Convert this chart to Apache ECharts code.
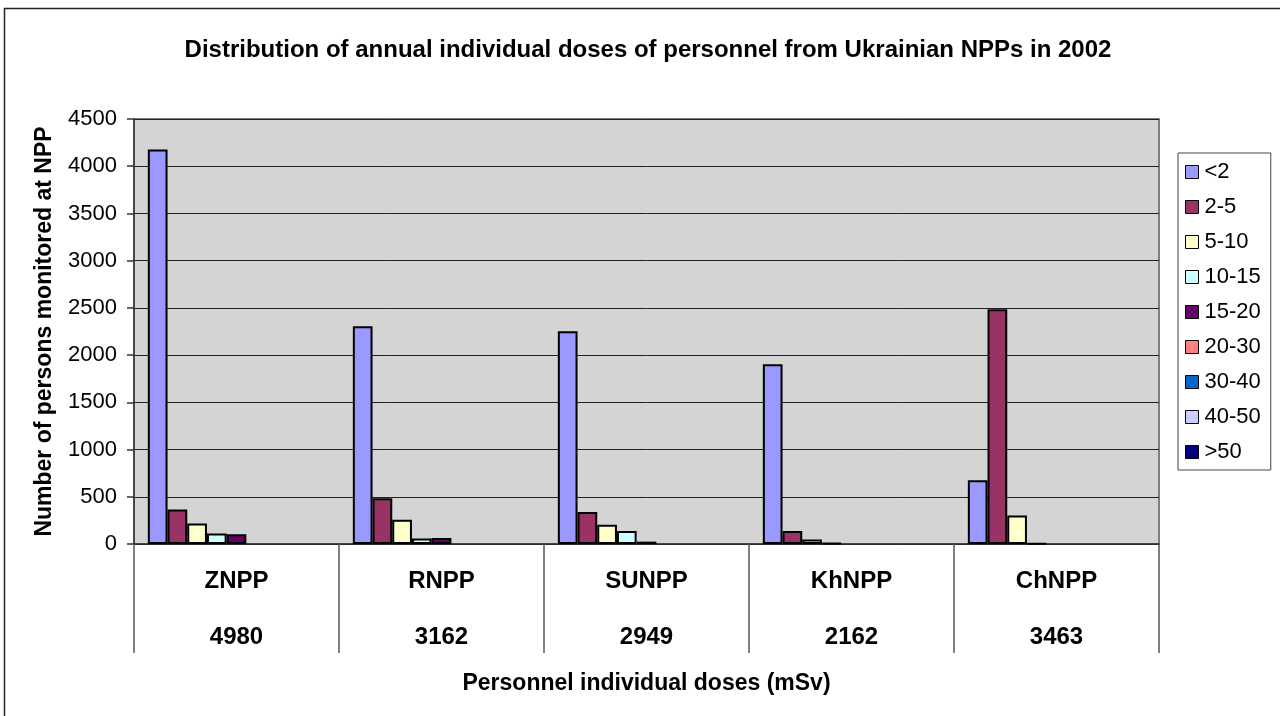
<!DOCTYPE html>
<html>
<head>
<meta charset="utf-8">
<script src="https://cdn.jsdelivr.net/npm/echarts@6/dist/echarts.min.js"></script>
<style>
html,body{margin:0;padding:0;background:#fff;}
#chart{width:1280px;height:716px;}
</style>
</head>
<body>
<div id="chart"></div>
<script>
var categories = ['ZNPP', 'RNPP', 'SUNPP', 'KhNPP', 'ChNPP'];
var totals = [4980, 3162, 2949, 2162, 3463];
var doseBands = ['<2', '2-5', '5-10', '10-15', '15-20', '20-30', '30-40', '40-50', '>50'];
var yTicks = [0, 500, 1000, 1500, 2000, 2500, 3000, 3500, 4000, 4500];

var lt2    = [4176, 2305, 2252, 1903, 674];
var d2_5   = [364, 484, 339, 138, 2485];
var d5_10  = [216, 258, 205, 47, 301];
var d10_15 = [110, 57, 138, 8, 6];
var d15_20 = [103, 64, 25, 0, 0];
var d20_30 = [0, 0, 0, 0, 0];
var d30_40 = [0, 0, 0, 0, 0];
var d40_50 = [0, 0, 0, 0, 0];
var gt50   = [0, 0, 0, 0, 0];

var seriesValues = [lt2, d2_5, d5_10, d10_15, d15_20, d20_30, d30_40, d40_50, gt50];
var colors = ['#9999FF', '#993366', '#FFFFCC', '#CCFFFF', '#660066', '#FF8080', '#0066CC', '#CCCCFF', '#000080'];

var FONT = '"Liberation Sans", Arial, sans-serif';

var chart = echarts.init(document.getElementById('chart'), null, {renderer: 'canvas'});

var series = doseBands.map(function (name, i) {
  return {
    name: name,
    type: 'bar',
    barGap: '0%',
    barCategoryGap: '13.5%',
    data: seriesValues[i].map(function (v) { return v === 0 ? null : v; }),
    itemStyle: {color: colors[i], borderColor: '#000', borderWidth: 2},
    emphasis: {disabled: true}
  };
});

var option = {
  animation: false,
  backgroundColor: '#fff',
  textStyle: {fontFamily: FONT},
  color: colors,
  title: {
    text: 'Distribution of annual individual doses of personnel from Ukrainian NPPs in 2002',
    left: 643,
    top: 33,
    textAlign: 'center',
    textStyle: {fontFamily: FONT, fontSize: 24, fontWeight: 'bold', color: '#000'}
  },
  graphic: [{
    type: 'rect',
    shape: {x: 4.5, y: 8.5, width: 1300, height: 730},
    style: {fill: 'none', stroke: '#222', lineWidth: 1.5},
    silent: true,
    z: 100
  }],
  legend: {
    orient: 'vertical',
    left: 1178,
    top: 153,
    padding: [8, 10, 7, 7],
    itemWidth: 13,
    itemHeight: 13,
    itemGap: 13,
    icon: 'rect',
    borderColor: '#444',
    borderWidth: 1,
    backgroundColor: '#fff',
    itemStyle: {borderColor: '#000', borderWidth: 1},
    textStyle: {fontFamily: FONT, fontSize: 22, color: '#000', lineHeight: 22, padding: [0, 0, 0, 1]},
    data: doseBands
  },
  grid: {
    left: 134,
    top: 119,
    width: 1025,
    height: 425,
    show: true,
    backgroundColor: '#D4D4D4',
    borderColor: '#808080',
    borderWidth: 2,
    containLabel: false
  },
  xAxis: {
    type: 'category',
    data: categories,
    name: 'Personnel individual doses (mSv)',
    nameLocation: 'middle',
    nameGap: 128,
    nameTextStyle: {fontFamily: FONT, fontSize: 23, fontWeight: 'bold', color: '#000'},
    axisLine: {show: true, lineStyle: {color: '#333', width: 1.5}},
    axisTick: {show: true, length: 109, interval: 0, lineStyle: {color: '#555', width: 1.5}},
    axisLabel: {
      interval: 0,
      margin: 9,
      formatter: function (v, idx) { return '{a|' + v + '}\n{b|' + totals[idx] + '}'; },
      rich: {
        a: {fontFamily: FONT, fontSize: 24, fontWeight: 'bold', color: '#000', lineHeight: 56},
        b: {fontFamily: FONT, fontSize: 24, fontWeight: 'bold', color: '#000', lineHeight: 56}
      }
    },
    splitLine: {show: false}
  },
  yAxis: {
    type: 'value',
    min: 0,
    max: 4500,
    interval: 500,
    name: 'Number of persons monitored at NPP',
    nameLocation: 'middle',
    nameGap: 78,
    nameTextStyle: {fontFamily: FONT, fontSize: 23, fontWeight: 'bold', color: '#000'},
    axisLine: {show: true, lineStyle: {color: '#333', width: 1.5}},
    axisTick: {show: true, length: 7, lineStyle: {color: '#333', width: 1.5}},
    axisLabel: {
      margin: 17,
      fontFamily: FONT,
      fontSize: 22,
      color: '#000',
      formatter: function (v) { return yTicks.indexOf(v) >= 0 ? String(v) : ''; }
    },
    splitLine: {show: true, lineStyle: {color: '#222', width: 1}}
  },
  series: series
};

chart.setOption(option);
</script>
</body>
</html>
